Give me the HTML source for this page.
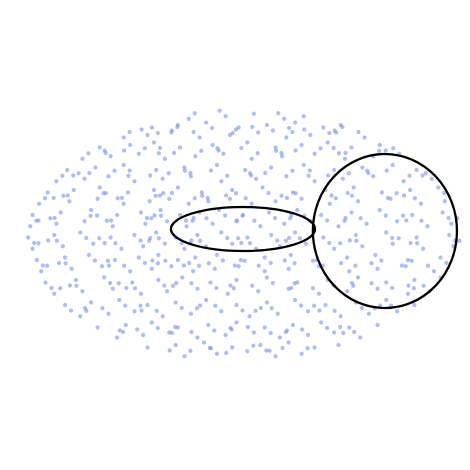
<!DOCTYPE html>
<html><head><meta charset="utf-8">
<style>html,body{margin:0;padding:0;background:#fff;width:470px;height:470px;overflow:hidden}</style>
</head><body>
<svg id="chart" width="470" height="470" viewBox="0 0 470 470"></svg>
<script>
// Point data: each row has a y value and the x values of points in that row (data units, -1..1)
const rowY = [0.95,0.88,0.8,0.72,0.63,0.54,0.45,0.36,0.27,0.18,0.09,0.0,-0.09,-0.18,-0.27,-0.36,-0.45,-0.54,-0.63,-0.72,-0.8,-0.88,-0.95];
const rowX = [
 [-0.25,-0.08,0.05,0.19,0.28],
 [-0.42,-0.3,-0.17,-0.02,0.11,0.24,0.37,0.45],
 [-0.55,-0.44,-0.33,-0.2,-0.06,0.07,0.2,0.31,0.43,0.56],
 [-0.66,-0.52,-0.41,-0.29,-0.14,0.02,0.15,0.27,0.39,0.5,0.63],
 [-0.74,-0.61,-0.48,-0.36,-0.22,-0.09,0.04,0.18,0.33,0.47,0.6,0.72],
 [-0.81,-0.68,-0.55,-0.4,-0.27,-0.12,0.01,0.13,0.28,0.42,0.55,0.69,0.8],
 [-0.86,-0.73,-0.62,-0.5,-0.37,-0.24,-0.1,0.06,0.2,0.33,0.46,0.6,0.74,0.87],
 [-0.9,-0.78,-0.66,-0.53,-0.41,-0.3,-0.19,-0.05,0.09,0.23,0.38,0.51,0.64,0.77,0.9],
 [-0.94,-0.8,-0.67,-0.55,-0.43,-0.34,-0.25,-0.16,-0.06,0.04,0.15,0.27,0.4,0.53,0.68,0.82,0.93],
 [-0.97,-0.84,-0.7,-0.58,-0.47,-0.38,-0.29,-0.2,-0.11,0.0,0.12,0.25,0.36,0.5,0.63,0.78,0.92],
 [-0.98,-0.86,-0.73,-0.6,-0.45,-0.35,-0.26,-0.14,-0.03,0.08,0.19,0.31,0.44,0.57,0.71,0.85,0.96],
 [-0.99,-0.87,-0.75,-0.61,-0.5,-0.4,-0.31,-0.21,-0.1,0.02,0.13,0.24,0.37,0.52,0.66,0.8,0.95],
 [-0.97,-0.83,-0.69,-0.56,-0.46,-0.36,-0.27,-0.17,-0.05,0.06,0.17,0.29,0.42,0.55,0.69,0.83,0.97],
 [-0.95,-0.82,-0.71,-0.59,-0.48,-0.39,-0.3,-0.22,-0.12,-0.01,0.1,0.22,0.34,0.48,0.61,0.76,0.91],
 [-0.93,-0.79,-0.65,-0.52,-0.42,-0.33,-0.23,-0.13,-0.02,0.1,0.21,0.35,0.49,0.62,0.75,0.88],
 [-0.91,-0.77,-0.64,-0.51,-0.39,-0.28,-0.15,-0.03,0.11,0.25,0.39,0.53,0.66,0.79,0.91],
 [-0.87,-0.74,-0.6,-0.47,-0.35,-0.21,-0.07,0.07,0.21,0.35,0.48,0.62,0.76,0.86],
 [-0.82,-0.7,-0.57,-0.44,-0.31,-0.17,-0.03,0.11,0.24,0.38,0.52,0.66,0.79],
 [-0.75,-0.62,-0.5,-0.37,-0.24,-0.1,0.03,0.16,0.3,0.45,0.58,0.71],
 [-0.67,-0.54,-0.42,-0.3,-0.16,-0.03,0.1,0.23,0.36,0.49,0.62],
 [-0.58,-0.46,-0.34,-0.21,-0.08,0.05,0.17,0.3,0.42,0.54],
 [-0.44,-0.31,-0.18,-0.05,0.08,0.21,0.33,0.44],
 [-0.27,-0.12,0.02,0.15,0.27]
];
// Ellipse annotations (data units): cx, cy, rx, ry
const ellipseCx = [0.0, 0.654];
const ellipseCy = [0.048, 0.032];
const ellipseRx = [0.332, 0.332];
const ellipseRy = [0.176, 0.616];

const W = 217, H = 125, CX = 243, CY = 235;
const sx = v => CX + v*W;
const sy = v => CY - v*H;
const NS = "http://www.w3.org/2000/svg";
const svg = document.getElementById('chart');

const gPts = document.createElementNS(NS,'g');


svg.appendChild(gPts);
function dot(px,py){
  const c = document.createElementNS(NS,'circle');
  
  
  c.setAttribute('cx', px);
  c.setAttribute('cy', py);
  c.setAttribute('r', 2.1);
  c.setAttribute('fill','#819aef');
  c.setAttribute('fill-opacity','0.65');
  gPts.appendChild(c);
}
rowY.forEach((y,i)=>{
  rowX[i].forEach((x,j)=>{
    const jy = ((j%3)-1)*0.02;
    const px = sx(x), py = sy(y+jy);
    dot(px,py);
    // secondary rendering offset to mimic reference density
    const ox = ((j%2)?-1:1)*6, oy = ((i%2)?1:-1)*5.5;
    const dx = (px+ox-CX)/W, dy = (py+oy-CY)/H;
    if (dx*dx+dy*dy < 1) dot(px+ox, py+oy);
  });
});

ellipseCx.forEach((cx,i)=>{
  const e = document.createElementNS(NS,'ellipse');
  
  
  e.setAttribute('cx', sx(cx));
  e.setAttribute('cy', sy(ellipseCy[i]));
  e.setAttribute('rx', ellipseRx[i]*W);
  e.setAttribute('ry', ellipseRy[i]*H);
  e.setAttribute('fill','none');
  e.setAttribute('stroke','#000');
  e.setAttribute('stroke-width','2.3');
  svg.appendChild(e);
});
</script>
</body></html>
